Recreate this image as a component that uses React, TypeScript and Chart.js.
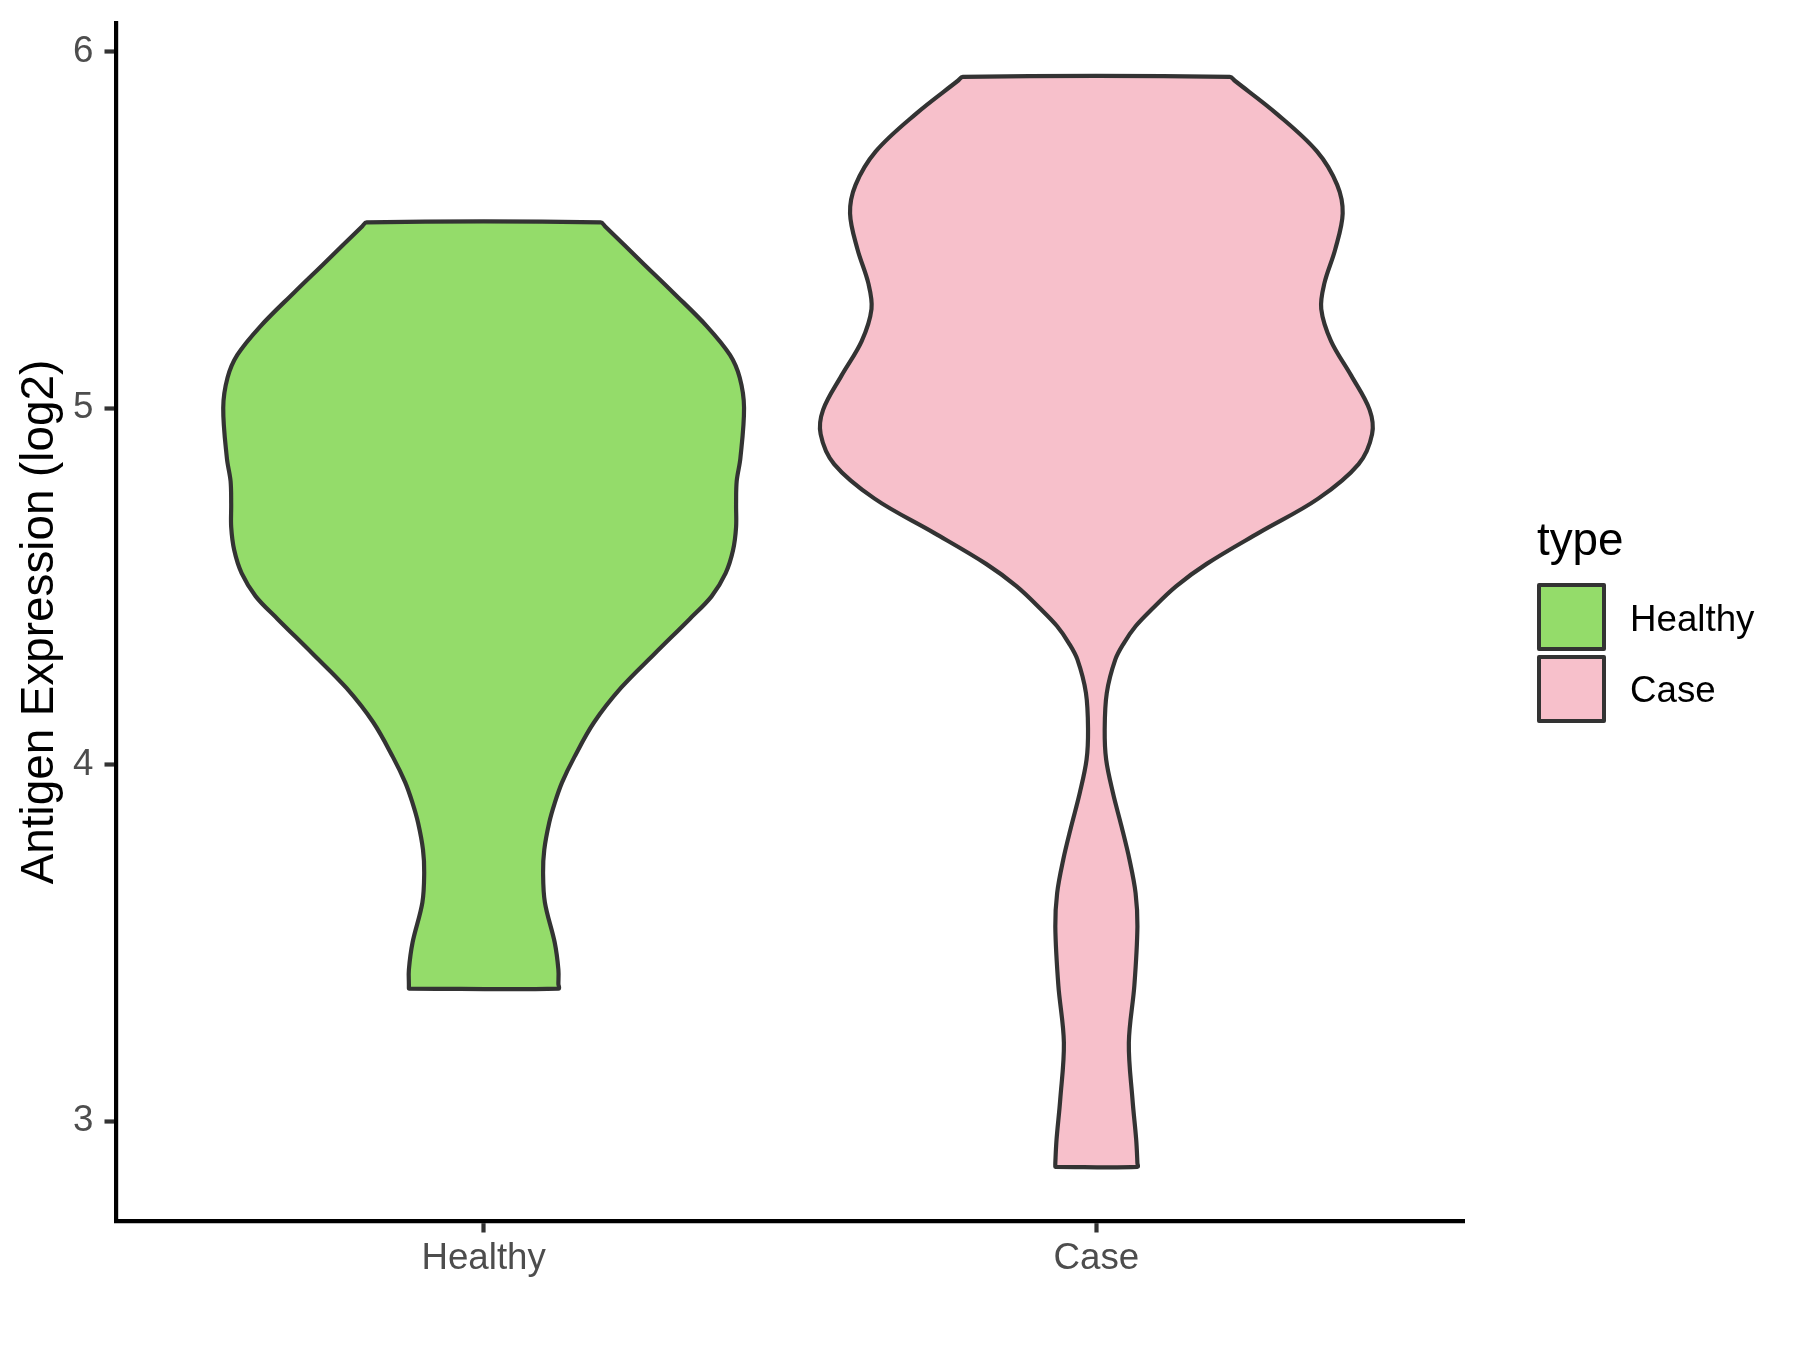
import React, { useEffect, useRef } from 'react';
import { Chart, registerables } from 'chart.js';

Chart.register(...registerables);

const FONT = '"Liberation Sans", Arial, Helvetica, sans-serif';

const categories = ['Healthy', 'Case'];
const fillColors = ['#94DC6A', '#F7C0CB'];
const outlineColor = '#333333';
const yTicks = [3, 4, 5, 6];
const yTitle = 'Antigen Expression (log2)';
const legendTitle = 'type';

// Violin outlines: y value and half-width (in category units)
const healthyY = [3.372, 3.385, 3.425, 3.501, 3.613, 3.697, 3.762, 3.837, 3.892, 3.95, 4.021, 4.118, 4.215, 4.311, 4.408, 4.472, 4.537, 4.601, 4.666, 4.73, 4.795, 4.859, 5.001, 5.085, 5.149, 5.23, 5.323, 5.403, 5.51, 5.521];
const healthyHalfWidth = [0.122, 0.122, 0.122, 0.116, 0.1, 0.097, 0.099, 0.107, 0.116, 0.128, 0.148, 0.18, 0.224, 0.279, 0.336, 0.372, 0.395, 0.407, 0.412, 0.412, 0.413, 0.419, 0.425, 0.418, 0.402, 0.364, 0.31, 0.262, 0.198, 0.191];

const caseY = [2.872, 2.882, 2.948, 3.06, 3.22, 3.38, 3.546, 3.64, 3.734, 3.827, 3.921, 4.014, 4.098, 4.201, 4.295, 4.341, 4.388, 4.435, 4.5, 4.563, 4.65, 4.746, 4.843, 4.927, 4.995, 5.091, 5.188, 5.278, 5.349, 5.446, 5.546, 5.626, 5.72, 5.826, 5.918, 5.929];
const caseHalfWidth = [0.067, 0.067, 0.065, 0.059, 0.053, 0.062, 0.067, 0.064, 0.054, 0.041, 0.027, 0.016, 0.0136, 0.017, 0.031, 0.045, 0.064, 0.09, 0.13, 0.18, 0.265, 0.362, 0.428, 0.45, 0.446, 0.416, 0.383, 0.367, 0.372, 0.39, 0.402, 0.393, 0.36, 0.294, 0.226, 0.218];

const violinYs = [healthyY, caseY];
const violinHalfWidths = [healthyHalfWidth, caseHalfWidth];

function violinPolygon(center: number, ys: number[], hws: number[]) {
  const pts: { x: number; y: number }[] = [];
  for (let i = 0; i < ys.length; i++) pts.push({ x: center - hws[i], y: ys[i] });
  for (let i = ys.length - 1; i >= 0; i--) pts.push({ x: center + hws[i], y: ys[i] });
  pts.push({ ...pts[0] });
  return pts;
}

const LINE_W = 4.2;

const legendPlugin = {
  id: 'ggLegend',
  afterDraw(chart: any) {
    const ctx = chart.ctx;
    ctx.save();
    ctx.textBaseline = 'alphabetic';
    ctx.textAlign = 'left';
    ctx.fillStyle = '#000000';
    ctx.font = `45.8px ${FONT}`;
    ctx.fillText(legendTitle, 1537, 555);
    categories.forEach((c, i) => {
      const top = 585 + i * 72;
      ctx.fillStyle = fillColors[i];
      ctx.fillRect(1539, top, 65, 64);
      ctx.strokeStyle = outlineColor;
      ctx.lineWidth = 4;
      ctx.lineJoin = 'round';
      ctx.strokeRect(1539, top, 65, 64);
      ctx.fillStyle = '#000000';
      ctx.font = `36.7px ${FONT}`;
      ctx.fillText(c, 1630, 631 + i * 71);
    });
    ctx.restore();
  },
};

export default function App() {
  const canvasRef = useRef<HTMLCanvasElement | null>(null);

  useEffect(() => {
    if (!canvasRef.current) return;
    Chart.defaults.font.family = FONT;
    const chart = new Chart(canvasRef.current, {
      type: 'scatter',
      data: {
        datasets: categories.map((c, i) => ({
          label: c,
          data: violinPolygon(i + 1, violinYs[i], violinHalfWidths[i]),
          showLine: true,
          fill: 'shape',
          backgroundColor: fillColors[i],
          borderColor: outlineColor,
          borderWidth: LINE_W,
          borderJoinStyle: 'round',
          borderCapStyle: 'round',
          pointRadius: 0,
          pointHoverRadius: 0,
          tension: 0.35,
        })),
      } as any,
      options: {
        responsive: false,
        animation: false,
        events: [],
        layout: { padding: { left: 0, right: 336, top: 23, bottom: 0 } },
        plugins: {
          legend: { display: false },
          tooltip: { enabled: false },
        },
        scales: {
          x: {
            type: 'linear',
            min: 0.4,
            max: 2.6,
            afterBuildTicks: (s: any) => {
              s.ticks = categories.map((_, i) => ({ value: i + 1 }));
            },
            afterFit: (s: any) => {
              s.height = 129;
              s.paddingLeft = 0;
              s.paddingRight = 0;
            },
            ticks: {
              callback: (v: any) => categories[Math.round(Number(v)) - 1] ?? '',
              color: '#4D4D4D',
              font: { size: 36.7, family: FONT },
              padding: 4,
              maxRotation: 0,
              autoSkip: false,
            },
            grid: {
              display: true,
              drawOnChartArea: false,
              drawTicks: true,
              tickLength: 11.5,
              tickWidth: LINE_W,
              tickColor: '#333333',
            },
            border: { display: true, color: '#000000', width: LINE_W },
          },
          y: {
            type: 'linear',
            min: 2.72,
            max: 6.08,
            afterBuildTicks: (s: any) => {
              s.ticks = yTicks.map((v) => ({ value: v }));
            },
            afterFit: (s: any) => {
              s.width = 116;
              s.paddingTop = 0;
              s.paddingBottom = 0;
            },
            ticks: {
              color: '#4D4D4D',
              font: { size: 36.7, family: FONT },
              padding: 11,
              callback: (v: any) => String(v),
            },
            grid: {
              display: true,
              drawOnChartArea: false,
              drawTicks: true,
              tickLength: 11.5,
              tickWidth: LINE_W,
              tickColor: '#333333',
            },
            border: { display: true, color: '#000000', width: LINE_W },
            title: {
              display: true,
              text: yTitle,
              color: '#000000',
              font: { size: 45.8, family: FONT },
              padding: { top: 13, bottom: 0 },
            },
          },
        },
      } as any,
      plugins: [legendPlugin],
    });
    return () => chart.destroy();
  }, []);

  return (
    <div style={{ position: 'fixed', left: 0, top: 0, width: 1800, height: 1350, background: '#ffffff' }}>
      <canvas ref={canvasRef} width={1800} height={1350} style={{ display: 'block' }} />
    </div>
  );
}
